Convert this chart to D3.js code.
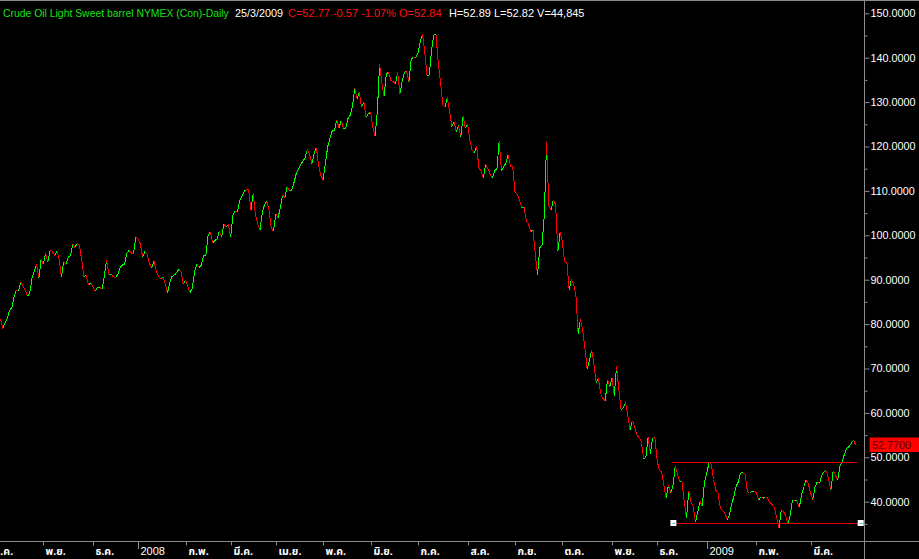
<!DOCTYPE html>
<html><head><meta charset="utf-8">
<script src="https://cdn.jsdelivr.net/npm/d3@7"></script>
<style>html,body{margin:0;padding:0;background:#000;overflow:hidden}</style>
</head><body>
<svg id="chart" width="919" height="559"></svg>
<script>
// Daily closes, 5 Oct 2007 .. 25 Mar 2009 (one value per bar)
const closes = [
// Oct 2007
81.22,79.02,80.30,81.30,83.08,83.69,86.13,87.61,87.40,89.47,88.60,87.55,86.27,87.10,90.46,91.86,93.53,90.38,94.53,
// Nov 2007
93.49,95.93,93.98,96.70,96.37,95.46,96.32,94.62,90.62,94.09,93.43,95.10,95.42,98.03,97.29,98.18,97.70,94.42,90.62,91.01,88.71,
// Dec 2007
89.31,88.32,87.49,88.28,88.28,87.86,90.76,94.39,91.25,91.27,90.63,90.49,91.24,92.77,93.31,93.47,95.97,96.62,96.00,95.98,
// Jan 2008
99.62,99.18,97.91,95.09,96.33,95.67,93.67,92.69,94.20,91.90,90.84,90.13,90.57,89.21,86.99,89.41,90.71,90.99,91.64,92.33,91.75,
// Feb 2008
88.96,90.02,88.41,87.14,88.11,91.77,93.59,92.78,93.27,95.46,95.50,100.01,100.74,98.23,98.81,99.23,100.88,99.64,102.59,101.84,
// Mar 2008
102.45,99.52,104.52,105.47,105.15,107.90,108.75,109.92,110.33,110.21,105.68,109.42,104.48,102.54,101.22,104.99,106.90,107.58,105.62,101.58,
// Apr 2008
100.98,104.83,103.92,106.23,109.09,108.50,110.87,110.11,110.14,111.76,113.79,114.93,115.86,116.69,117.48,119.37,118.30,116.06,118.52,119.75,115.63,113.46,
// May 2008
112.52,116.32,119.97,121.84,123.53,123.69,125.96,124.23,125.80,124.12,124.12,126.29,127.05,129.07,133.17,130.81,132.19,128.85,130.03,126.62,127.35,
// Jun 2008
127.76,124.31,122.30,127.79,138.54,134.35,131.31,136.38,136.74,134.86,134.61,134.01,136.68,131.93,134.62,136.74,137.00,134.55,139.64,140.21,140.00,
// Jul 2008
140.97,143.57,145.29,141.37,136.04,136.05,141.65,145.08,145.18,138.74,134.60,129.29,128.88,131.04,127.95,124.44,125.49,123.26,124.73,122.19,126.77,124.08,
// Aug 2008
125.10,121.41,119.17,118.58,120.02,115.20,114.45,113.01,116.00,115.01,113.77,112.87,114.53,114.98,121.18,114.59,115.46,116.27,118.15,115.59,115.46,
// Sep 2008
109.71,109.35,107.89,106.23,106.34,103.26,102.58,100.87,101.18,95.71,91.15,97.16,97.88,104.55,120.92,106.61,105.73,108.02,106.89,96.37,100.64,
// Oct 2008
98.53,93.97,93.88,87.81,90.06,88.95,86.59,77.70,81.19,78.63,74.54,69.85,71.85,74.25,70.89,66.75,67.84,64.15,63.22,62.73,67.50,65.96,67.81,
// Nov 2008
63.91,70.53,65.30,60.77,61.04,62.41,59.33,56.16,58.24,57.04,54.95,54.39,53.62,49.62,49.93,54.50,50.77,54.44,54.43,
// Dec 2008
49.28,46.96,46.79,43.67,40.81,43.71,42.07,43.52,47.98,46.28,44.51,44.60,40.06,36.22,42.36,39.91,38.98,35.35,37.71,40.02,39.03,44.60,
// Jan 2009
46.34,48.81,48.58,45.0,42.6,41.9,38.5,38.0,37.4,36.0,37.0,39.5,41.1,43.5,44.5,46.5,46.5,46.2,42.3,41.9,42.3,42.3,
// Feb 2009
42.0,40.4,41.1,40.8,41.1,40.8,39.8,39.3,38.7,36.3,34.0,38.1,37.8,36.8,34.9,37.0,40.4,40.2,40.2,38.7,41.5,43.4,44.9,44.1,
// Mar 2009
41.9,40.5,43.4,44.5,44.1,46.0,46.8,47.0,45.0,42.6,46.9,46.0,44.9,48.0,49.0,50.7,52.0,52.4,53.1,53.9,52.77
];

// Month labels on the time axis and the bar at which each one starts
const monthLabels = ["ต.ค.","พ.ย.","ธ.ค.","2008","ก.พ.","มี.ค.","เม.ย.","พ.ค.","มิ.ย.","ก.ค.","ส.ค.","ก.ย.","ต.ค.","พ.ย.","ธ.ค.","2009","ก.พ.","มี.ค."];
const monthBars   = [-4,19,41,61,82,102,122,143,164,185,207,228,249,271,291,313,335,359];

// Price-axis ticks
const majorTicks = [40,50,60,70,80,90,100,110,120,130,140,150];
const minorTicks = [35,45,55,65,75,85,95,105,115,125,135,145];

// Drawn horizontal trend lines (level, first bar, last bar)
const trendLevels = [49.0, 35.1];
const trendStart  = [297.4, 298.2];
const trendEnd    = [379.4, 381.2];

// Header
const headerParts = ["Crude Oil Light Sweet barrel NYMEX (Con)-Daily","25/3/2009","C=52.77 -0.57 -1.07% O=52.84","H=52.89 L=52.82 V=44,845"];
const lastClose = 52.77;

const W = 919, H = 559;
const plotRight = 864.5, axisY = 541.5;
const svg = d3.select("#chart");
svg.append("rect").attr("width",W).attr("height",H).attr("fill","#000");

const x = d3.scaleLinear().domain([0, closes.length-1]).range([0.5, 0.5 + 2.2565*(closes.length-1)]);
const y = d3.scaleLinear().domain([40,150]).range([501.7,13.3]);

const axisCol = "#8a8a8a";
const font = "'Liberation Sans', Arial, sans-serif";

// frame lines
svg.append("line").attr("x1",0).attr("x2",W).attr("y1",0.5).attr("y2",0.5).attr("stroke",axisCol);
svg.append("line").attr("x1",0).attr("x2",W).attr("y1",axisY).attr("y2",axisY).attr("stroke",axisCol);
svg.append("line").attr("x1",plotRight).attr("x2",plotRight).attr("y1",0).attr("y2",H).attr("stroke",axisCol);

// price line: green when rising, red when falling
const plot = svg.append("g").attr("shape-rendering","crispEdges");
const segs = d3.range(1, closes.length);
plot.selectAll("line.seg").data(segs).join("line").attr("class","seg")
  .attr("x1", i => x(i-1)).attr("y1", i => y(closes[i-1]))
  .attr("x2", i => x(i)).attr("y2", i => y(closes[i]))
  .attr("stroke", i => closes[i] >= closes[i-1] ? "#00ff00" : "#ff0000")
  .attr("stroke-width",1);

// trend lines
trendLevels.forEach((lv, k) => {
  svg.append("line").attr("x1", x(trendStart[k])).attr("x2", x(trendEnd[k]))
    .attr("y1", Math.round(y(lv))+0.5).attr("y2", Math.round(y(lv))+0.5)
    .attr("stroke","#e00000").attr("shape-rendering","crispEdges");
});
// handles on the lower line
[trendStart[1], trendEnd[1]].forEach(b => {
  const cx = x(b), cy = Math.round(y(trendLevels[1]));
  svg.append("rect").attr("x", cx-3).attr("y", cy-3).attr("width",6).attr("height",6).attr("fill","#fff");
  svg.append("line").attr("x1",cx-1).attr("x2",cx+2).attr("y1",cy+0.5).attr("y2",cy+0.5).attr("stroke","#40c0c0");
});

// right price axis
const yAxis = d3.axisRight(y).tickValues(majorTicks).tickSize(5).tickPadding(1).tickFormat(d3.format(".4f"));
const gy = svg.append("g").attr("transform",`translate(${plotRight},0)`).call(yAxis);
gy.select(".domain").remove();
gy.selectAll(".tick line").attr("stroke",axisCol);
gy.selectAll(".tick text").attr("fill","#fff").attr("font-family",font).attr("font-size","10.8px");
const gyMinor = svg.append("g").attr("transform",`translate(${plotRight},0)`)
  .call(d3.axisRight(y).tickValues(minorTicks).tickSize(3).tickFormat(""));
gyMinor.select(".domain").remove();
gyMinor.selectAll(".tick line").attr("stroke",axisCol);

// last price tag
const yl = y(lastClose);
svg.append("rect").attr("x",869.5).attr("y",yl-7.5).attr("width",50).attr("height",14.5).attr("fill","#ff0000");
svg.append("text").attr("x",872).attr("y",yl+4).attr("fill","#5a0000").attr("font-family",font).attr("font-size","10.8px").text(lastClose.toFixed(4));

// time axis
const gx = svg.append("g");
monthLabels.forEach((lab, k) => {
  const xx = Math.round(x(monthBars[k])) + 0.5;
  const isYear = /^\d{4}$/.test(lab);
  gx.append("line").attr("x1",xx).attr("x2",xx).attr("y1",axisY).attr("y2",isYear?549:545.5).attr("stroke",axisCol);
  gx.append("text").attr("x",xx+2).attr("y",isYear?555:555).attr("fill","#fff")
    .attr("font-family", isYear ? font : "'Noto Sans Thai','Tahoma','Liberation Sans',sans-serif")
    .attr("font-size", isYear ? "11px" : "10.5px").attr("font-weight", isYear ? "normal" : "bold").text(lab);
});

// header
const hx = [3, 235, 288, 449];
const hw = [226, 48, 158, 137];
const hc = ["#19e019","#ffffff","#ff1010","#ffffff"];
headerParts.forEach((t, k) => {
  const el = svg.append("text").attr("x",hx[k]).attr("y",17).attr("fill",hc[k])
    .attr("font-family",font).attr("font-size","11px").text(t);
  const len = el.node().getComputedTextLength();
  if (len > hw[k]) el.attr("font-size", (11*hw[k]/len).toFixed(2)+"px");
});
</script>
</body></html>
